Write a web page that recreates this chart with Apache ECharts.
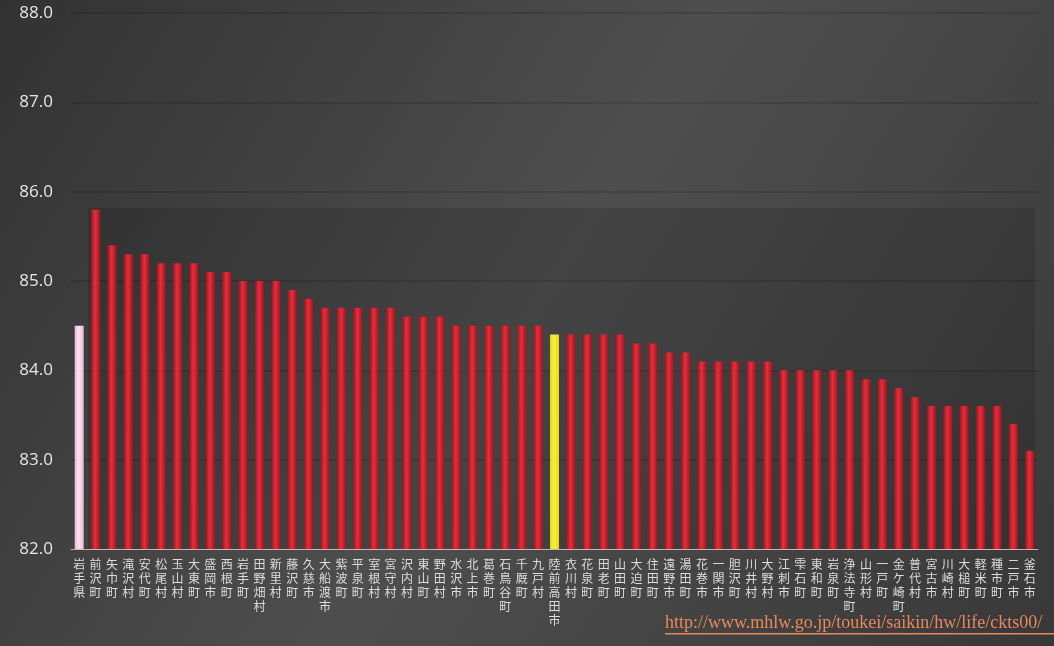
<!DOCTYPE html>
<html><head><meta charset="utf-8">
<script src="https://cdn.jsdelivr.net/npm/echarts@6/dist/echarts.min.js"></script>
<style>html,body{margin:0;padding:0;background:#3c3c3c;}#c{width:1054px;height:646px;}</style>
</head><body><div id="c"></div>
<script>
const categories = ['岩手県','前沢町','矢巾町','滝沢村','安代町','松尾村','玉山村','大東町','盛岡市','西根町','岩手町','田野畑村','新里村','藤沢町','久慈市','大船渡市','紫波町','平泉町','室根村','宮守村','沢内村','東山町','野田村','水沢市','北上市','葛巻町','石鳥谷町','千厩町','九戸村','陸前高田市','衣川村','花泉町','田老町','山田町','大迫町','住田町','遠野市','湯田町','花巻市','一関市','胆沢町','川井村','大野村','江刺市','雫石町','東和町','岩泉町','浄法寺町','山形村','一戸町','金ケ崎町','普代村','宮古市','川崎村','大槌町','軽米町','種市町','二戸市','釜石市'];
const values = [84.5,85.8,85.4,85.3,85.3,85.2,85.2,85.2,85.1,85.1,85.0,85.0,85.0,84.9,84.8,84.7,84.7,84.7,84.7,84.7,84.6,84.6,84.6,84.5,84.5,84.5,84.5,84.5,84.5,84.4,84.4,84.4,84.4,84.4,84.3,84.3,84.2,84.2,84.1,84.1,84.1,84.1,84.1,84.0,84.0,84.0,84.0,84.0,83.9,83.9,83.8,83.7,83.6,83.6,83.6,83.6,83.6,83.4,83.1];
const yTicks = [82,83,84,85,86,87,88];
const sourceUrl = 'http://www.mhlw.go.jp/toukei/saikin/hw/life/ckts00/';

function grad(c1,c2){
  return new echarts.graphic.LinearGradient(0,0,1,0,[{offset:0,color:c2},{offset:0.45,color:c1},{offset:1,color:c2}]);
}
const redG = grad('#e2303c','#a0141f');
const pinkG = grad('#fbe3f2','#e8b8d8');
const yellowG = grad('#f8f040','#e0d818');

const data = values.map((v,i)=>{
  let c = redG;
  if (categories[i]==='岩手県') c = pinkG;
  if (categories[i]==='陸前高田市') c = yellowG;
  return {value:v, itemStyle:{color:c}};
});

const chart = echarts.init(document.getElementById('c'));
chart.setOption({
  backgroundColor: new echarts.graphic.LinearGradient(0,0,1,1,[{offset:0,color:'#323232'},{offset:0.5,color:'#4e4e4e'},{offset:1,color:'#383838'}]),
  animation:false,
  grid:{left:71,right:16,top:13,bottom:97},
  xAxis:{
    type:'category', data:categories,
    axisLine:{lineStyle:{color:'#bbbbbb',width:1}},
    axisTick:{show:false},
    axisLabel:{interval:0, color:'#dddddd', fontSize:12, lineHeight:14, margin:8,
      fontFamily:'Noto Sans CJK JP',
      formatter:v=>v.split('').join('\n')}
  },
  yAxis:{
    type:'value', min:yTicks[0], max:yTicks[yTicks.length-1], interval:1,
    axisLine:{show:false}, axisTick:{show:false},
    axisLabel:{color:'#e6e6e6', fontSize:17, margin:18, fontFamily:'Open Sans', formatter:v=>v.toFixed(1)},
    splitLine:{lineStyle:{color:'rgba(0,0,0,0.16)',width:1.5}}
  },
  graphic:[
    {type:'rect', shape:{x:88,y:208,width:947,height:340}, style:{fill:'rgba(0,0,0,0.12)'}, z:-1, silent:true},
    {type:'text', left:665, top:614, style:{text:sourceUrl, fill:'#e8885c', font:'18px "Liberation Serif"'}},
    {type:'rect', shape:{x:665,y:633,width:400,height:1.5}, style:{fill:'#e8885c'}}
  ],
  series:[{type:'bar', data:data, barWidth:9, barGap:'0%'}]
});
</script></body></html>
